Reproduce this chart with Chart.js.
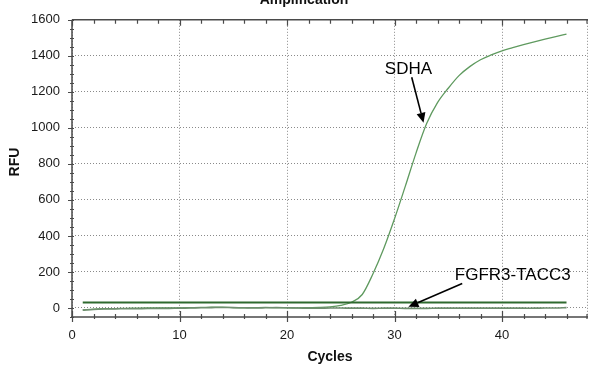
<!DOCTYPE html>
<html>
<head>
<meta charset="utf-8">
<script src="https://cdn.jsdelivr.net/npm/chart.js@4/dist/chart.umd.min.js"></script>
<style>
  html, body { margin: 0; padding: 0; background: #fff; }
  #wrap { width: 589px; height: 367px; }
</style>
</head>
<body>
<div id="wrap"><canvas id="c" width="589" height="367"></canvas></div>
<script>
// Amplification run: cycle number vs relative fluorescence units
const cycles = [1,2,3,4,5,6,7,8,9,10,11,12,13,14,15,16,17,18,19,20,21,22,23,24,25,26,27,28,29,30,31,32,33,34,35,36,37,38,39,40,41,42,43,44,45,46];
const sdhaRFU = [-10,-6,-4,-3,-2,-1,0,0,1,1,2,3,5,4,2,1,2,3,2,1,1,2,3,6,14,32,75,190,330,495,675,860,1025,1140,1220,1290,1340,1378,1405,1428,1445,1462,1478,1493,1507,1520];
const fusionRFU = [-12,-8,-6,-5,-4,-4,-3,-2,-2,-1,0,1,2,3,2,1,0,1,2,1,0,-1,-1,0,0,-1,-1,-2,-1,-1,-2,-2,-2,-1,-1,-1,-1,-1,-1,-1,-1,-1,-1,0,0,2];
const thresholdCycles = [1, 46];
const thresholdRFU = [30, 30];
const xTickLabels = [0, 10, 20, 30, 40];
const yTickLabels = [0, 200, 400, 600, 800, 1000, 1200, 1400, 1600];

// Callouts, positioned in data units (cycle, RFU)
const callouts = [
  { text: 'SDHA', at: [31.3, 1327], from: [31.6, 1281], to: [32.7, 1028] },
  { text: 'FGFR3-TACC3', at: [41.0, 181], from: [36.3, 136], to: [31.3, 7] }
];

const toPoints = (xs, ys) => xs.map((x, i) => ({ x: x, y: ys[i] }));
const FONT = '"Liberation Sans", Arial, sans-serif';

// Frame, tick marks, axis titles, chart title and callouts
const decorations = {
  id: 'decorations',
  afterDatasetsDraw(chart) {
    const { ctx, chartArea: a, scales: { x, y } } = chart;
    ctx.save();
    // dotted right edge
    ctx.strokeStyle = '#8a8a8a';
    ctx.lineWidth = 1;
    ctx.setLineDash([1, 2]);
    ctx.beginPath();
    ctx.moveTo(Math.floor(a.right) - 0.5, a.top);
    ctx.lineTo(Math.floor(a.right) - 0.5, a.bottom);
    ctx.stroke();
    ctx.setLineDash([]);

    ctx.strokeStyle = '#4a4a4a';
    ctx.lineWidth = 1.5;
    ctx.beginPath();
    ctx.moveTo(a.left, a.top); ctx.lineTo(a.right, a.top);
    ctx.moveTo(a.left, a.top); ctx.lineTo(a.left, a.bottom);
    ctx.moveTo(a.left - 1, a.bottom); ctx.lineTo(a.right, a.bottom);
    ctx.stroke();

    ctx.lineWidth = 1.2;
    ctx.beginPath();
    for (let v = 0; v <= x.max; v += 2) {
      const px = Math.min(Math.round(x.getPixelForValue(v)) + 0.5, a.right - 1);
      const major = v % 10 === 0;
      ctx.moveTo(px, a.bottom - (major ? 6 : 3)); ctx.lineTo(px, a.bottom + (major ? 5 : 2));
      ctx.moveTo(px, a.top); ctx.lineTo(px, a.top + (major ? 6 : 4));
    }
    for (let v = y.min; v <= y.max; v += 50) {
      const py = Math.round(y.getPixelForValue(v)) + 0.5;
      const major = v % 200 === 0;
      ctx.moveTo(a.left - (major ? 4 : 2), py); ctx.lineTo(a.left + 2, py);
    }
    ctx.stroke();

    ctx.fillStyle = '#111';
    ctx.font = 'bold 14px ' + FONT;
    ctx.textAlign = 'center';
    ctx.textBaseline = 'alphabetic';
    ctx.fillText('Amplification', 304, 4);
    ctx.textBaseline = 'middle';
    ctx.fillText('Cycles', (a.left + a.right) / 2, 357);
    ctx.save();
    ctx.translate(15, 162);
    ctx.rotate(-Math.PI / 2);
    ctx.fillText('RFU', 0, 0);
    ctx.restore();

    ctx.font = '17px ' + FONT;
    ctx.strokeStyle = '#000';
    ctx.fillStyle = '#000';
    ctx.lineWidth = 1.6;
    callouts.forEach(c => {
      ctx.fillText(c.text, x.getPixelForValue(c.at[0]), y.getPixelForValue(c.at[1]));
      const x0 = x.getPixelForValue(c.from[0]), y0 = y.getPixelForValue(c.from[1]);
      const x1 = x.getPixelForValue(c.to[0]), y1 = y.getPixelForValue(c.to[1]);
      const ang = Math.atan2(y1 - y0, x1 - x0);
      const len = 10, half = 4.5;
      const bx = x1 - len * Math.cos(ang), by = y1 - len * Math.sin(ang);
      ctx.beginPath();
      ctx.moveTo(x0, y0); ctx.lineTo(bx, by);
      ctx.stroke();
      ctx.beginPath();
      ctx.moveTo(x1, y1);
      ctx.lineTo(bx + half * Math.sin(ang), by - half * Math.cos(ang));
      ctx.lineTo(bx - half * Math.sin(ang), by + half * Math.cos(ang));
      ctx.closePath();
      ctx.fill();
    });
    ctx.restore();
  }
};

new Chart(document.getElementById('c'), {
  type: 'scatter',
  data: {
    datasets: [
      {
        label: 'FGFR3-TACC3',
        data: toPoints(cycles, fusionRFU),
        showLine: true,
        borderColor: '#6f8f6f',
        borderWidth: 1.6,
        pointRadius: 0,
        tension: 0.3
      },
      {
        label: 'Threshold',
        data: toPoints(thresholdCycles, thresholdRFU),
        showLine: true,
        borderColor: '#2f6a2f',
        borderWidth: 2,
        pointRadius: 0
      },
      {
        label: 'SDHA',
        data: toPoints(cycles, sdhaRFU),
        showLine: true,
        borderColor: '#5f9a5f',
        borderWidth: 1.3,
        pointRadius: 0,
        cubicInterpolationMode: 'monotone'
      }
    ]
  },
  options: {
    responsive: false,
    animation: false,
    devicePixelRatio: 1,
    layout: { padding: { top: 18, right: 1, left: 0, bottom: 0 } },
    plugins: { legend: { display: false }, title: { display: false }, tooltip: { enabled: false } },
    scales: {
      x: {
        type: 'linear',
        min: 0,
        max: 48,
        afterBuildTicks: s => { s.ticks = xTickLabels.map(v => ({ value: v })); },
        afterFit: s => { s.height = 50; },
        border: { display: false, dash: [1, 2] },
        grid: { color: '#8a8a8a', lineWidth: 1, drawTicks: false },
        ticks: { padding: 11, color: '#1a1a1a', font: { family: FONT, size: 13 }, maxRotation: 0, callback: v => String(v) }
      },
      y: {
        type: 'linear',
        min: -50,
        max: 1600,
        afterBuildTicks: s => { s.ticks = yTickLabels.map(v => ({ value: v })); },
        afterFit: s => { s.width = 72; },
        border: { display: false, dash: [1, 2] },
        grid: { color: '#8a8a8a', lineWidth: 1, drawTicks: false },
        ticks: { padding: 12, color: '#1a1a1a', font: { family: FONT, size: 13 }, callback: v => String(v) }
      }
    }
  },
  plugins: [decorations]
});
</script>
</body>
</html>
